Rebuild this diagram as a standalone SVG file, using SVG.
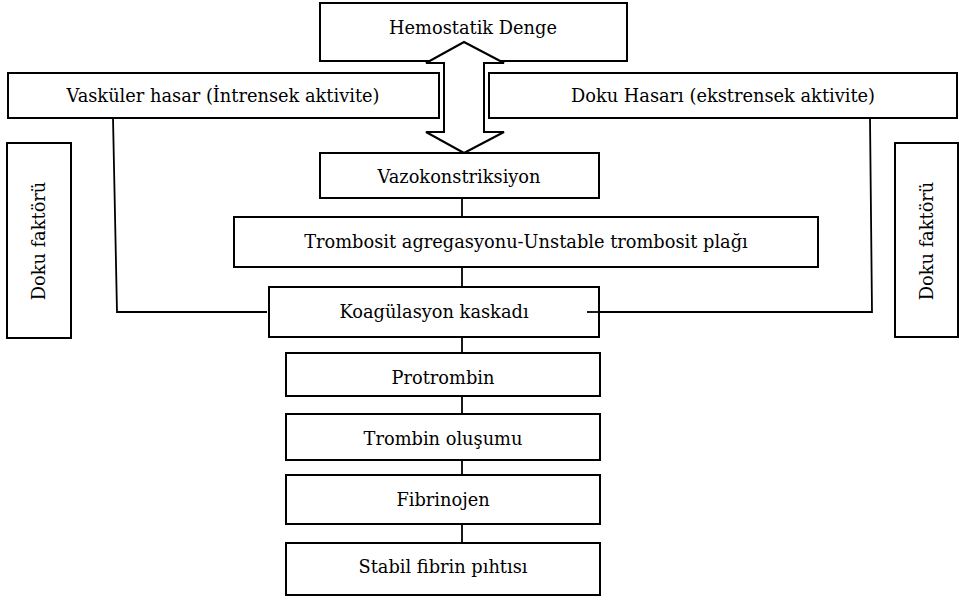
<svg xmlns="http://www.w3.org/2000/svg" width="960" height="596" viewBox="0 0 960 596">
<style>
.box{fill:#fff;stroke:#000;stroke-width:2}
.conn{fill:none;stroke:#000;stroke-width:1.8}
text{font-family:"DejaVu Serif","Liberation Serif",serif;font-size:17.8px;fill:#000;text-anchor:middle}
</style>
<rect width="960" height="596" fill="#fff"/>
<g id="hemostatik"><rect class="box" x="320" y="3" width="307" height="58"/><text x="473" y="34">Hemostatik Denge</text></g>
<g id="vaskuler"><rect class="box" x="8" y="73" width="431" height="45"/><text x="223" y="102">Vasküler hasar (İntrensek aktivite)</text></g>
<g id="dokuhasari"><rect class="box" x="489" y="73" width="468" height="45"/><text x="723" y="102">Doku Hasarı (ekstrensek aktivite)</text></g>
<g id="dokufaktoru-sol"><rect class="box" x="7" y="143" width="64" height="195"/><text transform="translate(45 241) rotate(-90)">Doku faktörü</text></g>
<g id="dokufaktoru-sag"><rect class="box" x="895" y="143" width="63" height="194"/><text transform="translate(933 241) rotate(-90)">Doku faktörü</text></g>
<g id="connectors">
<path class="conn" d="M113 118 L117 312 L267 312"/>
<path class="conn" d="M870 118 L872 312 L587 312"/>
<path class="conn" d="M462 198 V217 M462 267 V287 M462 337 V353 M462 396 V414 M462 456 V475 M462 524 V543"/>
<polygon points="464,42 504,63 484,63 484,132 504,132 464,153 426,132 444,132 444,63 426,63" fill="#fff" stroke="#000" stroke-width="2" stroke-linejoin="miter"/>
</g>
<g id="vazokonstriksiyon"><rect class="box" x="320" y="153" width="279" height="45"/><text x="459" y="183">Vazokonstriksiyon</text></g>
<g id="trombosit"><rect class="box" x="234" y="217" width="584" height="50"/><text x="526" y="248">Trombosit agregasyonu-Unstable trombosit plağı</text></g>
<g id="koagulasyon"><rect class="box" x="269" y="287" width="330" height="50"/><text x="434" y="318">Koagülasyon kaskadı</text></g>
<g id="protrombin"><rect class="box" x="286" y="353" width="314" height="43"/><text x="443" y="384">Protrombin</text></g>
<g id="trombin"><rect class="box" x="286" y="414" width="314" height="46"/><text x="443" y="445">Trombin oluşumu</text></g>
<g id="fibrinojen"><rect class="box" x="286" y="475" width="314" height="49"/><text x="443" y="506">Fibrinojen</text></g>
<g id="stabil"><rect class="box" x="286" y="543" width="314" height="52"/><text x="443" y="573">Stabil fibrin pıhtısı</text></g>
<path class="conn" d="M587 312 L599 312"/>
</svg>
